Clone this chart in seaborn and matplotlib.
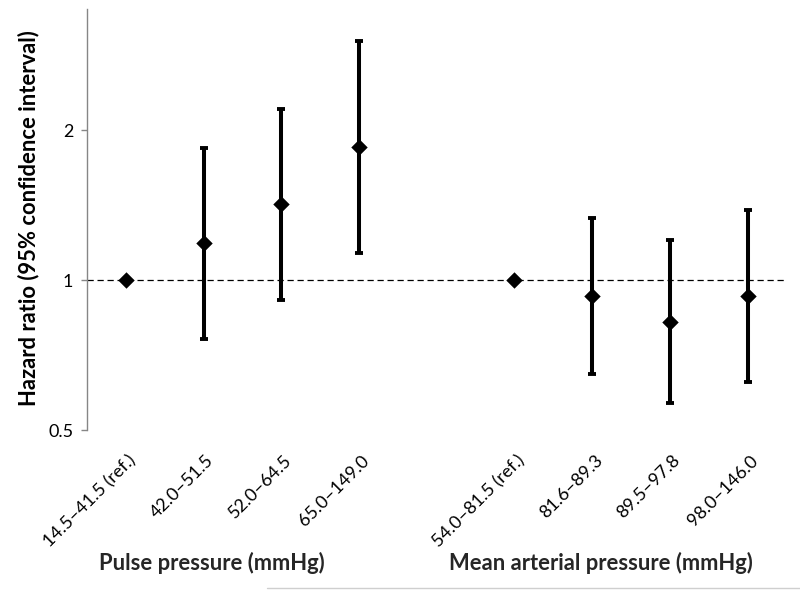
import numpy as np
import matplotlib
matplotlib.use("Agg")
import matplotlib.pyplot as plt
import matplotlib.transforms as mtransforms
from matplotlib.lines import Line2D
import seaborn as sns

# categories and hazard ratios
groups = ["Pulse pressure (mmHg)"] * 4 + ["Mean arterial pressure (mmHg)"] * 4
labels = ["14.5–41.5 (ref.)", "42.0–51.5", "52.0–64.5", "65.0–149.0",
          "54.0–81.5 (ref.)", "81.6–89.3", "89.5–97.8", "98.0–146.0"]
hr = [1.0, 1.19, 1.42, 1.85, 1.0, 0.93, 0.823, 0.93]
ci_low = [1.0, 0.763, 0.913, 1.137, 1.0, 0.647, 0.566, 0.624]
ci_high = [1.0, 1.84, 2.21, 3.03, 1.0, 1.335, 1.204, 1.385]
is_ref = [True, False, False, False, True, False, False, False]

sns.set_theme(style="white")
plt.rcParams['font.family'] = ['Lato', 'DejaVu Sans']

# x slots: one empty slot between the two groups
group_names = list(dict.fromkeys(groups))
x = []
for g in group_names:
    n = groups.count(g)
    start = group_names.index(g) * (n + 1)
    x += list(range(start, start + n))
x = np.array(x)
hr = np.array(hr)
lo = np.array(ci_low)
hi = np.array(ci_high)
mask = ~np.array(is_ref)

fig, ax = plt.subplots(figsize=(8, 5.9), dpi=100)
fig.subplots_adjust(left=0.109, right=0.983, top=0.984, bottom=0.271)

ax.axhline(1, color='black', lw=0.9, ls=(0, (5, 3)), zorder=1)
ax.errorbar(x[mask], hr[mask], yerr=[hr[mask] - lo[mask], hi[mask] - hr[mask]],
            fmt='none', ecolor='black', elinewidth=2.9, capsize=3.2, capthick=2.8, zorder=2)
sns.scatterplot(x=x, y=hr, marker='D', color='black', s=70, edgecolor='black',
                linewidth=0, ax=ax, zorder=3, legend=False)

ax.set_yscale('log', base=2)
ax.set_ylim(0.5, 3.5)
ax.set_yticks([0.5, 1, 2])
ax.set_yticklabels(["0.5", "1", "2"])
ax.yaxis.set_minor_locator(matplotlib.ticker.NullLocator())
ax.set_xlim(-0.5, x.max() + 0.5)
ax.set_xticks(x)
ax.set_xticklabels(labels, rotation=45, ha='right', va='top', rotation_mode='anchor')

for sp in ['top', 'right', 'bottom']:
    ax.spines[sp].set_visible(False)
ax.spines['left'].set_color('#868686')
ax.spines['left'].set_linewidth(1.0)
ax.tick_params(axis='y', left=True, length=4, width=1, color='#868686',
               labelsize=13, labelcolor='black', pad=6)
ax.tick_params(axis='x', bottom=False, labelsize=13, labelcolor='black', pad=10)
offset = mtransforms.ScaledTranslation(2 / 100, 0, fig.dpi_scale_trans)
for t in ax.get_xticklabels():
    t.set_transform(t.get_transform() + offset)

ax.set_ylabel("Hazard ratio (95% confidence interval)", fontsize=15.8,
              fontweight='bold', color='black')
ax.yaxis.set_label_coords(-0.068, 0.505)
ax.set_xlabel("")

trans = mtransforms.blended_transform_factory(ax.transData, ax.transAxes)
for g in group_names:
    gx = x[np.array(groups) == g]
    ax.text(gx.mean() - 0.39, -0.316, g, transform=trans, ha='center', va='center',
            fontsize=15.8, fontweight='bold')

fig.add_artist(Line2D([0.334, 1.0], [0.003, 0.003], transform=fig.transFigure,
                      color='#cfcfcf', lw=1))

plt.savefig('out.png', dpi=100)
